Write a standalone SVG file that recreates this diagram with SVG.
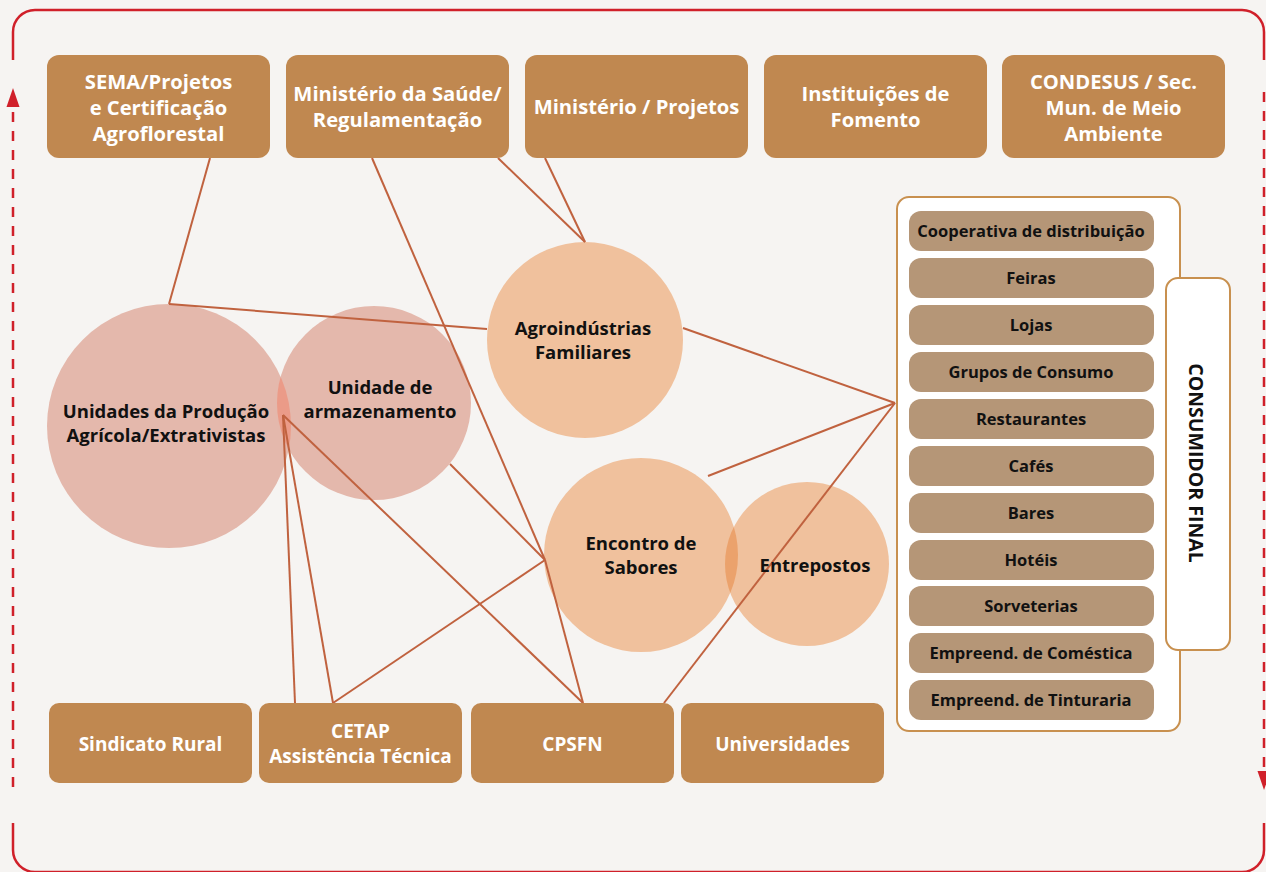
<svg xmlns="http://www.w3.org/2000/svg" width="1266" height="872" viewBox="0 0 1266 872">
<defs>
<style>
.box{fill:#c08850}
.bt{font-family:"Open Sans","Noto Sans","DejaVu Sans",sans-serif;font-weight:700;font-size:20.2px;fill:#fff;text-anchor:middle}
.bb{font-size:19px}
.ct{font-family:"Open Sans","Noto Sans","DejaVu Sans",sans-serif;font-weight:700;font-size:18.5px;fill:#111;text-anchor:middle}
.it{fill:#b59677}
.itt{font-family:"Open Sans","Noto Sans","DejaVu Sans",sans-serif;font-weight:700;font-size:16.5px;fill:#111;text-anchor:middle}
.pink{fill:#e4b8ac}
.peach{fill:#f0c19d}
.ln{stroke:#c0623f;stroke-width:2;fill:none}
.brd{stroke:#d0202a;stroke-width:2.5;fill:none}
.dash{stroke:#d0202a;stroke-width:2.5;fill:none;stroke-dasharray:10 9}
</style>
<clipPath id="cpA"><circle cx="169" cy="426" r="122"/></clipPath>
<clipPath id="cpE"><circle cx="641" cy="555" r="97"/></clipPath>
</defs>
<rect width="1266" height="872" fill="#f6f4f2"/>

<g id="border">
<path class="brd" d="M13 60 V32 A22 22 0 0 1 35 10 H1242 A22 22 0 0 1 1264 32 V60"/>
<path class="brd" d="M13 823 V850 A22 22 0 0 0 35 872 H1242 A22 22 0 0 0 1264 850 V823"/>
<line class="dash" x1="13" y1="112" x2="13" y2="793"/>
<polygon points="13,88 6.5,107 19.5,107" fill="#d0202a"/>
<line class="dash" x1="1264" y1="92" x2="1264" y2="774"/>
<polygon points="1264,790 1257.5,771 1270.5,771" fill="#d0202a"/>
</g>

<g id="unidades-producao">
<circle class="pink" cx="169" cy="426" r="122"/>
</g>
<g id="unidade-armazenamento">
<circle class="pink" cx="374" cy="403" r="97"/>
<circle cx="374" cy="403" r="97" fill="#eb9b88" clip-path="url(#cpA)"/>
</g>
<g id="agroindustrias">
<circle class="peach" cx="585" cy="340" r="98"/>
</g>
<g id="encontro-sabores">
<circle class="peach" cx="641" cy="555" r="97"/>
</g>
<g id="entrepostos">
<circle class="peach" cx="807" cy="564" r="82"/>
<circle cx="807" cy="564" r="82" fill="#eba26c" clip-path="url(#cpE)"/>
</g>

<g id="connectors">
<line class="ln" x1="210" y1="158" x2="169" y2="304"/>
<line class="ln" x1="169" y1="304" x2="487" y2="329"/>
<line class="ln" x1="372" y1="158" x2="545" y2="560"/>
<line class="ln" x1="545" y1="560" x2="583" y2="703"/>
<line class="ln" x1="498" y1="158" x2="585" y2="242"/>
<line class="ln" x1="545" y1="158" x2="585" y2="242"/>
<line class="ln" x1="683" y1="328" x2="895" y2="403"/>
<line class="ln" x1="708" y1="476" x2="895" y2="403"/>
<line class="ln" x1="664" y1="703" x2="895" y2="403"/>
<line class="ln" x1="450" y1="464" x2="545" y2="560"/>
<line class="ln" x1="545" y1="560" x2="333" y2="703"/>
<line class="ln" x1="283" y1="415" x2="295" y2="703"/>
<line class="ln" x1="283" y1="415" x2="333" y2="703"/>
<line class="ln" x1="283" y1="415" x2="583" y2="703"/>
</g>

<g id="circle-labels">
<text class="ct" x="166" y="418">Unidades da Produção<tspan x="166" dy="24">Agrícola/Extrativistas</tspan></text>
<text class="ct" x="380" y="394">Unidade de<tspan x="380" dy="24">armazenamento</tspan></text>
<text class="ct" x="583" y="335">Agroindústrias<tspan x="583" dy="24">Familiares</tspan></text>
<text class="ct" x="641" y="550">Encontro de<tspan x="641" dy="24">Sabores</tspan></text>
<text class="ct" x="815" y="572">Entrepostos</text>
</g>

<g id="sema">
<rect class="box" x="47" y="55" width="223" height="103" rx="12"/>
<text class="bt" x="158.5" y="89">SEMA/Projetos<tspan x="158.5" dy="26">e Certificação</tspan><tspan x="158.5" dy="26">Agroflorestal</tspan></text>
</g>
<g id="ministerio-saude">
<rect class="box" x="286" y="55" width="223" height="103" rx="12"/>
<text class="bt" x="397.5" y="101">Ministério da Saúde/<tspan x="397.5" dy="26">Regulamentação</tspan></text>
</g>
<g id="ministerio-projetos">
<rect class="box" x="525" y="55" width="223" height="103" rx="12"/>
<text class="bt" x="636.5" y="114">Ministério / Projetos</text>
</g>
<g id="instituicoes-fomento">
<rect class="box" x="764" y="55" width="223" height="103" rx="12"/>
<text class="bt" x="875.5" y="101">Instituições de<tspan x="875.5" dy="26">Fomento</tspan></text>
</g>
<g id="condesus">
<rect class="box" x="1002" y="55" width="223" height="103" rx="12"/>
<text class="bt" x="1113.5" y="89">CONDESUS / Sec.<tspan x="1113.5" dy="26">Mun. de Meio</tspan><tspan x="1113.5" dy="26">Ambiente</tspan></text>
</g>

<g id="sindicato-rural">
<rect class="box" x="49" y="703" width="203" height="80" rx="10"/>
<text class="bt bb" x="150.5" y="751">Sindicato Rural</text>
</g>
<g id="cetap">
<rect class="box" x="259" y="703" width="203" height="80" rx="10"/>
<text class="bt bb" x="360.5" y="738">CETAP<tspan x="360.5" dy="25">Assistência Técnica</tspan></text>
</g>
<g id="cpsfn">
<rect class="box" x="471" y="703" width="203" height="80" rx="10"/>
<text class="bt bb" x="572.5" y="751">CPSFN</text>
</g>
<g id="universidades">
<rect class="box" x="681" y="703" width="203" height="80" rx="10"/>
<text class="bt bb" x="782.5" y="751">Universidades</text>
</g>

<g id="canais">
<rect x="897" y="197" width="283" height="534" rx="12" fill="#fff" stroke="#c8904f" stroke-width="2"/>
<rect class="it" x="909" y="211" width="245" height="40" rx="12"/><text class="itt" x="1031" y="237">Cooperativa de distribuição</text>
<rect class="it" x="909" y="258" width="245" height="40" rx="12"/><text class="itt" x="1031" y="284">Feiras</text>
<rect class="it" x="909" y="305" width="245" height="40" rx="12"/><text class="itt" x="1031" y="331">Lojas</text>
<rect class="it" x="909" y="352" width="245" height="40" rx="12"/><text class="itt" x="1031" y="378">Grupos de Consumo</text>
<rect class="it" x="909" y="399" width="245" height="40" rx="12"/><text class="itt" x="1031" y="425">Restaurantes</text>
<rect class="it" x="909" y="446" width="245" height="40" rx="12"/><text class="itt" x="1031" y="472">Cafés</text>
<rect class="it" x="909" y="493" width="245" height="40" rx="12"/><text class="itt" x="1031" y="519">Bares</text>
<rect class="it" x="909" y="540" width="245" height="40" rx="12"/><text class="itt" x="1031" y="566">Hotéis</text>
<rect class="it" x="909" y="586" width="245" height="40" rx="12"/><text class="itt" x="1031" y="612">Sorveterias</text>
<rect class="it" x="909" y="633" width="245" height="40" rx="12"/><text class="itt" x="1031" y="659">Empreend. de Coméstica</text>
<rect class="it" x="909" y="680" width="245" height="40" rx="12"/><text class="itt" x="1031" y="706">Empreend. de Tinturaria</text>
</g>

<g id="consumidor-final">
<rect x="1166" y="278" width="64" height="372" rx="12" fill="#fff" stroke="#c8904f" stroke-width="2"/>
<text class="ct" x="0" y="0" transform="translate(1189 463) rotate(90)" style="font-size:19.5px">CONSUMIDOR FINAL</text>
</g>
</svg>
